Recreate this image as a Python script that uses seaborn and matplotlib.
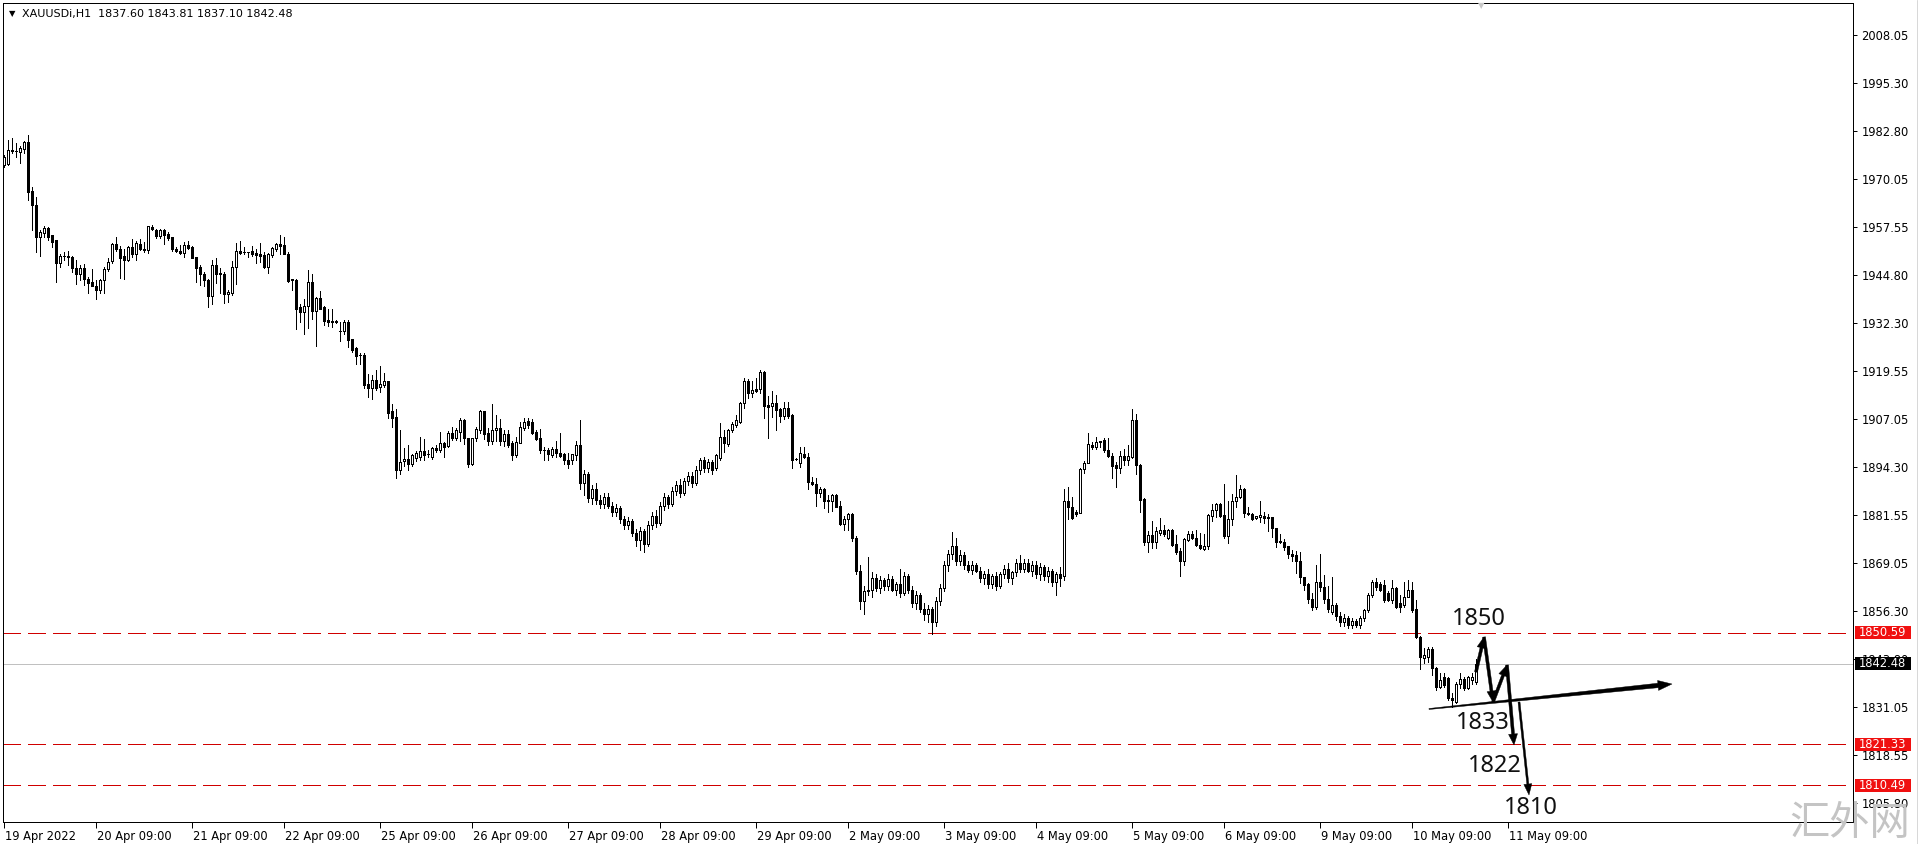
import numpy as np
import pandas as pd
import matplotlib
matplotlib.use("Agg")
import matplotlib.pyplot as plt
import seaborn as sns
import matplotlib.transforms as mtransforms
from matplotlib.patches import Polygon, Rectangle

sns.set_theme(style="white")
plt.rcParams['font.family'] = ['DejaVu Sans']
plt.rcParams['lines.scale_dashes'] = False

# ---------------- OHLC data (XAUUSD H1) ----------------
# bars 0-93 : 19 Apr - 22 Apr
seg1_open = [1973.8,1974.2,1977.7,1977.6,1977.3,1977.9,1979.9,1967.0,1963.4,1954.9,
1956.0,1957.3,1955.3,1954.0,1947.9,1949.8,1949.8,1949.6,1946.6,1945.0,
1946.7,1943.8,1943.0,1941.9,1941.0,1943.5,1946.4,1948.5,1953.0,1951.8,
1949.8,1948.7,1952.3,1950.5,1952.9,1951.8,1951.4,1957.5,1956.7,1955.2,
1956.7,1955.6,1954.8,1951.7,1951.1,1950.7,1952.7,1952.3,1949.5,1947.0,
1945.2,1943.5,1939.4,1947.4,1945.4,1945.2,1939.8,1940.0,1947.0,1951.2,
1951.0,1951.0,1951.1,1950.7,1950.3,1950.1,1947.0,1950.1,1951.8,1953.0,
1952.7,1950.5,1943.7,1943.5,1936.5,1935.2,1936.6,1943.1,1935.4,1938.9,
1936.3,1933.0,1932.8,1932.7,1930.1,1930.1,1932.5,1927.9,1925.5,1923.9,
1923.9,1916.1,1915.0,1917.3]
seg1_high = [1976.4,1980.5,1980.8,1979.7,1978.8,1980.2,1981.7,1967.9,1965.4,1956.7,
1957.8,1957.5,1955.5,1954.0,1950.3,1951.0,1951.2,1949.8,1948.9,1947.6,
1947.7,1944.2,1946.3,1943.5,1943.9,1947.0,1949.2,1953.3,1954.9,1952.5,
1951.6,1952.4,1954.2,1953.7,1954.2,1953.6,1957.8,1957.9,1956.9,1956.9,
1957.0,1956.2,1954.9,1952.3,1952.7,1953.6,1953.9,1952.5,1949.6,1947.4,
1945.7,1943.7,1948.8,1949.2,1946.6,1945.7,1941.0,1948.5,1953.2,1953.8,
1952.3,1951.0,1952.5,1951.8,1953.4,1951.0,1950.7,1952.3,1953.2,1955.3,
1954.9,1951.0,1943.7,1943.7,1937.2,1938.4,1946.1,1945.1,1939.1,1940.6,
1936.6,1935.8,1935.8,1932.9,1932.5,1933.0,1933.0,1928.1,1925.9,1924.2,
1924.2,1918.9,1918.5,1919.8]
seg1_low = [1973.3,1973.8,1976.9,1976.0,1974.4,1976.9,1964.6,1956.8,1951.0,1949.9,
1954.9,1954.0,1952.3,1943.1,1947.0,1948.9,1947.6,1945.7,1942.4,1943.5,
1942.2,1940.2,1941.9,1938.6,1940.0,1940.0,1946.0,1947.9,1951.2,1944.1,
1943.7,1948.6,1949.6,1948.9,1951.4,1951.0,1950.7,1956.8,1954.5,1954.6,
1953.0,1954.0,1951.2,1950.8,1950.5,1949.5,1951.6,1949.2,1943.1,1942.2,
1942.0,1936.3,1937.1,1942.8,1940.0,1937.6,1937.8,1939.5,1942.4,1950.5,
1950.5,1949.6,1949.9,1948.1,1948.3,1946.6,1945.5,1949.5,1951.2,1950.3,
1950.3,1943.1,1941.0,1930.5,1932.5,1929.2,1930.8,1933.3,1926.1,1935.8,
1931.6,1931.4,1931.2,1932.3,1927.5,1929.4,1925.9,1924.6,1921.5,1921.5,
1915.2,1912.8,1912.1,1914.5]
seg1_close = [1976.0,1977.7,1977.6,1977.5,1978.2,1979.9,1966.8,1963.4,1954.9,1956.1,
1957.3,1954.9,1953.6,1947.9,1949.9,1949.8,1949.6,1946.6,1945.0,1946.6,
1943.7,1942.8,1941.9,1941.0,1943.5,1946.4,1948.4,1953.0,1951.7,1949.2,
1948.7,1952.3,1950.5,1953.2,1951.7,1951.4,1957.7,1957.0,1955.2,1956.7,
1955.5,1954.6,1951.7,1951.1,1950.7,1952.7,1952.0,1949.4,1946.7,1945.0,
1943.4,1939.4,1947.4,1945.0,1945.1,1939.8,1940.4,1947.0,1951.1,1950.7,
1950.9,1950.9,1950.3,1950.0,1949.8,1947.0,1950.3,1952.0,1952.9,1952.6,
1950.5,1943.3,1943.6,1935.9,1935.2,1936.6,1943.1,1935.4,1938.9,1936.0,
1932.8,1932.6,1932.4,1932.4,1930.1,1932.5,1927.7,1925.1,1923.6,1923.8,
1915.8,1915.0,1917.3,1915.2]

# bars 94-183 : 22 Apr - 29 Apr
seg2_open = [1915.3,1915.9,1916.9,1908.9,1907.5,1893.5,1895.8,1896.4,1895.0,1896.6,
1897.0,1898.5,1897.6,1897.0,1899.2,1898.8,1900.7,1899.8,1903.3,1902.0,
1903.6,1906.7,1901.8,1895.2,1901.8,1904.0,1909.0,1903.2,1901.2,1903.9,
1904.6,1901.2,1903.0,1900.5,1897.4,1900.7,1904.5,1906.5,1906.2,1903.4,
1901.8,1898.8,1898.8,1897.4,1898.9,1898.1,1897.6,1896.0,1896.1,1897.4,
1900.1,1890.0,1892.5,1886.0,1888.5,1885.5,1884.5,1886.5,1884.0,1882.5,
1883.5,1880.5,1879.0,1880.0,1877.0,1875.0,1877.5,1874.0,1879.0,1881.5,
1879.5,1884.0,1886.5,1884.5,1888.0,1889.5,1887.5,1890.5,1892.0,1890.0,
1893.5,1896.0,1894.0,1895.5,1894.0,1896.6,1902.3,1900.3,1904.0,1905.4]
seg2_high = [1920.9,1919.0,1916.9,1910.8,1909.5,1904.0,1899.2,1900.1,1897.6,1898.5,
1902.3,1901.7,1898.8,1899.5,1900.1,1903.6,1900.9,1903.8,1904.9,1904.5,
1907.3,1906.8,1902.0,1902.0,1904.9,1909.3,1909.1,1904.5,1910.9,1908.0,
1906.8,1904.0,1904.0,1901.0,1902.3,1906.2,1907.1,1907.1,1906.8,1904.0,
1904.2,1899.6,1899.2,1899.6,1901.0,1903.2,1898.0,1897.9,1897.8,1901.0,
1906.7,1893.5,1893.0,1889.5,1890.0,1887.0,1887.5,1887.5,1885.0,1884.5,
1884.0,1881.5,1881.0,1880.5,1878.0,1878.5,1878.0,1880.0,1882.5,1883.0,
1885.0,1887.5,1887.0,1889.0,1890.5,1891.0,1891.5,1893.0,1893.0,1894.5,
1896.6,1897.0,1896.5,1896.0,1897.8,1905.8,1904.0,1904.2,1906.2,1908.0]
seg2_low = [1914.0,1915.3,1907.3,1904.7,1891.5,1892.5,1894.5,1893.5,1894.6,1895.8,
1896.1,1896.1,1897.0,1896.5,1898.3,1898.3,1897.0,1899.5,1901.4,1901.4,
1901.0,1900.3,1894.3,1894.8,1901.0,1903.2,1901.7,1900.1,1900.3,1901.0,
1900.1,1899.9,1899.6,1896.1,1897.0,1900.5,1904.0,1904.5,1903.0,1901.4,
1898.1,1896.1,1896.1,1897.0,1897.0,1897.0,1895.0,1894.0,1895.0,1896.1,
1888.5,1887.0,1885.0,1884.5,1884.5,1883.5,1883.5,1883.5,1881.5,1881.5,
1879.5,1878.0,1878.0,1876.0,1873.5,1872.5,1872.0,1873.5,1878.0,1878.5,
1879.0,1883.0,1883.5,1884.0,1887.0,1886.5,1887.0,1889.5,1889.0,1889.5,
1892.5,1893.0,1893.0,1892.5,1893.5,1896.0,1898.3,1899.8,1903.6,1904.9]
seg2_close = [1916.1,1916.9,1908.6,1907.3,1893.5,1895.5,1896.4,1895.0,1897.4,1898.1,
1898.5,1897.4,1897.7,1899.2,1898.8,1900.5,1899.6,1903.3,1902.0,1903.9,
1906.7,1901.8,1895.2,1901.8,1904.2,1909.0,1903.0,1901.2,1904.0,1904.6,
1901.2,1903.0,1900.1,1897.4,1900.8,1904.9,1906.2,1905.4,1903.3,1901.7,
1898.8,1898.7,1897.7,1898.9,1897.9,1897.3,1896.1,1895.0,1897.6,1900.1,
1890.0,1892.5,1886.0,1888.5,1885.5,1884.5,1886.5,1884.0,1882.5,1883.5,
1880.5,1879.0,1880.0,1877.0,1875.0,1877.5,1874.0,1879.0,1881.5,1879.5,
1884.0,1886.5,1884.5,1888.0,1889.5,1887.5,1890.5,1892.0,1890.0,1893.5,
1896.0,1894.0,1895.5,1893.5,1897.4,1902.3,1900.5,1904.0,1905.6,1906.7]

# bars 184-211 : 29 Apr
seg3_open = [1906.2,1911.05,1917.0,1913.7,1914.7,1914.7,1919.4,1910.6,1910.3,1911.05,
1909.6,1907.7,1909.7,1908.0,1896.4,1895.4,1897.7,1897.0,1890.3,1889.7,
1887.5,1888.4,1885.6,1885.4,1886.9,1884.0,1879.4,1880.5]
seg3_high = [1911.5,1917.6,1917.4,1916.8,1917.6,1919.7,1919.6,1913.0,1914.3,1913.2,
1909.7,1911.3,1911.3,1908.2,1896.6,1899.6,1899.6,1898.1,1891.7,1891.3,
1889.1,1888.7,1887.0,1887.3,1887.2,1885.4,1881.4,1882.1]
seg3_low = [1905.8,1909.7,1912.4,1912.8,1914.1,1913.9,1907.3,1902.0,1907.4,1904.0,
1906.2,1906.9,1907.3,1894.1,1896.0,1894.4,1896.6,1888.5,1889.5,1884.0,
1886.3,1883.4,1882.3,1882.7,1883.7,1879.0,1877.7,1877.7]
seg3_close = [1911.05,1917.0,1913.7,1914.6,1914.4,1919.4,1910.3,1910.2,1911.05,1909.3,
1907.7,1909.7,1907.7,1896.1,1896.3,1897.9,1897.0,1890.2,1889.7,1887.5,
1888.4,1885.2,1885.2,1886.9,1883.8,1879.4,1880.5,1881.8]

# bars 212-265 : 2 May - 4 May
seg4_open = [1881.9,1875.5,1867.0,1859.0,1861.5,1862.0,1865.0,1862.5,1864.5,1863.0,
1864.8,1862.0,1863.5,1861.0,1865.5,1862.0,1858.5,1860.5,1857.0,1855.5,
1857.0,1853.5,1859.0,1862.5,1868.5,1871.5,1873.5,1869.5,1871.0,1868.5,
1867.2,1868.5,1867.0,1865.0,1866.0,1863.5,1865.5,1863.0,1866.0,1867.5,
1865.0,1866.5,1869.0,1867.5,1869.0,1867.0,1868.5,1866.0,1868.0,1865.5,
1867.0,1864.0,1866.0,1865.5]
seg4_high = [1882.2,1876.0,1868.5,1863.0,1870.5,1866.5,1866.0,1865.5,1865.0,1866.0,
1865.5,1864.0,1867.5,1866.5,1866.0,1863.0,1861.5,1861.0,1858.5,1858.0,
1857.5,1860.0,1863.5,1869.5,1872.5,1877.2,1875.5,1872.5,1872.0,1869.5,
1869.5,1869.0,1868.0,1867.0,1867.5,1866.0,1866.5,1866.5,1868.5,1869.0,
1867.0,1870.0,1871.0,1870.0,1870.0,1869.5,1869.5,1869.0,1868.5,1868.0,
1867.5,1866.5,1868.0,1888.4]
seg4_low = [1874.8,1866.0,1857.0,1855.5,1860.5,1860.0,1861.5,1861.0,1862.0,1862.0,
1861.5,1860.5,1860.0,1860.5,1861.0,1857.5,1857.0,1856.0,1854.0,1853.5,
1850.3,1852.5,1858.0,1861.5,1867.0,1870.0,1868.5,1868.5,1867.5,1866.5,
1866.0,1866.5,1864.0,1863.5,1862.5,1862.5,1862.0,1862.5,1865.0,1864.0,
1863.5,1865.5,1866.5,1866.5,1866.5,1865.5,1865.0,1864.5,1864.5,1864.0,
1863.0,1860.5,1863.0,1864.5]
seg4_close = [1875.5,1867.0,1859.0,1861.5,1862.0,1865.0,1862.5,1864.5,1863.0,1864.8,
1862.0,1863.5,1861.0,1865.5,1862.0,1858.5,1860.5,1857.0,1855.5,1857.0,
1853.5,1859.0,1862.5,1868.5,1871.5,1873.5,1869.5,1871.0,1868.5,1867.2,
1868.5,1867.0,1865.0,1866.0,1863.5,1865.5,1863.0,1866.0,1867.5,1865.0,
1866.5,1869.0,1867.5,1869.0,1867.0,1868.5,1866.0,1868.0,1865.5,1867.0,
1864.0,1866.0,1865.0,1885.4]

# bars 266-324 : 4 May - 9 May
seg5_open = [1885.4,1883.7,1882.5,1882.2,1893.7,1895.4,1900.2,1899.5,1901.2,1901.4,
1898.8,1897.3,1894.8,1893.9,1897.2,1896.0,1896.8,1906.7,1894.8,1885.8,
1874.6,1876.4,1874.4,1877.0,1877.7,1875.5,1877.7,1873.9,1872.2,1869.6,
1875.1,1876.6,1875.5,1873.7,1872.7,1873.6,1881.5,1883.0,1884.5,1881.6,
1876.2,1880.5,1885.2,1886.3,1888.4,1882.1,1882.0,1880.8,1881.2,1881.4,
1881.2,1881.0,1878.1,1874.9,1874.6,1873.5,1871.4,1871.1,1869.6]
seg5_high = [1889.1,1886.3,1883.0,1893.9,1895.9,1903.2,1900.9,1902.3,1901.2,1901.8,
1901.8,1898.1,1895.7,1898.5,1899.0,1900.1,1909.6,1908.2,1895.0,1886.0,
1877.3,1880.1,1878.6,1880.8,1879.0,1877.9,1877.9,1876.4,1872.9,1875.7,
1877.3,1877.3,1877.7,1876.8,1876.6,1881.8,1884.5,1884.9,1884.9,1889.8,
1885.2,1887.3,1892.2,1889.5,1888.7,1883.7,1882.2,1881.4,1885.3,1882.3,
1881.9,1881.2,1878.3,1876.6,1875.2,1873.5,1872.4,1872.2,1872.0]
seg5_low = [1880.5,1880.5,1881.4,1882.1,1892.6,1895.3,1898.9,1898.9,1899.5,1898.3,
1897.0,1891.3,1889.1,1892.8,1894.8,1894.8,1896.6,1892.4,1882.3,1873.7,
1872.0,1872.9,1872.9,1876.4,1876.1,1875.2,1873.5,1871.4,1865.6,1868.5,
1874.9,1875.2,1873.5,1872.6,1872.4,1872.6,1880.1,1881.0,1881.0,1875.5,
1874.2,1879.0,1883.7,1886.0,1881.2,1881.6,1880.3,1880.7,1879.9,1879.6,
1877.3,1875.9,1873.3,1874.2,1872.4,1870.2,1869.4,1866.3,1863.8]
seg5_close = [1883.7,1880.8,1881.9,1893.7,1895.4,1900.3,1899.5,1900.9,1900.9,1898.8,
1897.3,1894.6,1893.9,1897.2,1896.0,1897.2,1906.7,1894.8,1885.6,1874.6,
1876.4,1874.4,1877.3,1877.7,1876.6,1877.7,1873.7,1872.0,1869.6,1875.3,
1876.6,1875.5,1873.7,1872.9,1873.6,1881.6,1883.0,1884.5,1881.4,1876.2,
1880.5,1885.2,1886.3,1888.4,1882.1,1882.0,1880.6,1881.4,1881.6,1880.9,
1880.8,1878.1,1874.4,1874.4,1873.3,1871.5,1870.8,1869.4,1865.2]

# bars 325-368 : 9 May - 11 May
seg6_open = [1865.2,1863.4,1859.5,1857.5,1864.1,1862.8,1859.5,1856.0,1858.0,1855.0,
1853.5,1854.5,1852.8,1853.8,1852.6,1854.5,1856.5,1860.5,1863.9,1863.4,
1863.2,1861.0,1859.3,1862.3,1858.4,1857.9,1860.1,1861.9,1856.8,1849.6,
1843.9,1844.3,1846.3,1841.3,1836.4,1839.1,1838.6,1833.4,1832.5,1837.1,
1838.4,1836.0,1838.2,1837.60]
seg6_high = [1865.4,1863.8,1861.0,1868.6,1871.3,1865.8,1862.9,1865.4,1858.5,1856.0,
1855.5,1855.0,1854.5,1854.3,1855.0,1857.0,1861.0,1864.6,1865.0,1864.0,
1864.5,1861.5,1864.5,1862.8,1860.6,1864.1,1864.5,1864.1,1859.3,1849.8,
1846.5,1846.8,1846.8,1841.7,1839.9,1839.9,1839.1,1834.7,1837.7,1839.9,
1839.1,1839.2,1839.9,1843.81]
seg6_low = [1861.9,1858.5,1856.5,1857.0,1861.5,1858.5,1856.0,1855.5,1854.0,1852.5,
1852.5,1852.0,1852.0,1852.2,1852.0,1853.8,1856.0,1860.0,1862.0,1861.6,
1858.8,1858.9,1858.4,1857.1,1856.2,1857.5,1860.0,1856.2,1849.2,1841.0,
1842.6,1843.0,1839.5,1835.6,1836.0,1836.4,1832.9,1831.2,1832.0,1836.0,
1835.6,1835.7,1837.1,1837.10]
seg6_close = [1863.2,1859.5,1857.5,1864.1,1862.8,1859.5,1857.0,1858.0,1855.0,1853.5,
1854.5,1852.8,1853.8,1852.6,1854.5,1856.5,1860.5,1864.1,1862.8,1862.0,
1859.3,1859.3,1862.3,1857.5,1857.5,1860.1,1861.9,1856.6,1849.6,1844.3,
1844.8,1846.3,1841.3,1836.4,1838.2,1836.9,1833.4,1832.9,1837.1,1838.4,
1836.0,1838.9,1839.1,1842.48]

# axis ticks
price_ticks = [2008.05, 1995.30, 1982.80, 1970.05, 1957.55, 1944.80, 1932.30, 1919.55,
               1907.05, 1894.30, 1881.55, 1869.05, 1856.30, 1843.80, 1831.05, 1818.55, 1805.80]
time_tick_bars = [0, 23, 47, 70, 94, 117, 141, 164, 188, 211, 235, 258, 282, 305, 329, 352, 376]
time_tick_labels = ["19 Apr 2022", "20 Apr 09:00", "21 Apr 09:00", "22 Apr 09:00", "25 Apr 09:00",
                    "26 Apr 09:00", "27 Apr 09:00", "28 Apr 09:00", "29 Apr 09:00", "2 May 09:00",
                    "3 May 09:00", "4 May 09:00", "5 May 09:00", "6 May 09:00", "9 May 09:00",
                    "10 May 09:00", "11 May 09:00"]

# horizontal levels
red_levels = [1850.59, 1821.33, 1810.49]
bid_level = 1842.48

# hand-drawn annotations (bar index, price)
zigzag_x = [368.0, 370.0, 372.25, 375.75, 377.5]
zigzag_y = [1840.29, 1849.51, 1832.39, 1842.13, 1821.07]
drop_arrow_x = [378.75, 381.25]
drop_arrow_y = [1832.39, 1807.90]
trend_x = [356.25, 417.0]
trend_y = [1830.55, 1837.13]
target_texts = ["1850", "1833", "1822", "1810"]
target_x = [368.75, 369.75, 372.75, 381.75]
target_y = [1854.25, 1826.86, 1815.53, 1804.47]

header = "XAUUSDi,H1  1837.60 1843.81 1837.10 1842.48"

# ---------------- assemble ----------------
opens = seg1_open + seg2_open + seg3_open + seg4_open + seg5_open + seg6_open
highs = seg1_high + seg2_high + seg3_high + seg4_high + seg5_high + seg6_high
lows = seg1_low + seg2_low + seg3_low + seg4_low + seg5_low + seg6_low
closes = seg1_close + seg2_close + seg3_close + seg4_close + seg5_close + seg6_close
n = min(len(opens), len(highs), len(lows), len(closes))
df = pd.DataFrame({"bar": np.arange(n), "open": opens[:n], "high": highs[:n],
                   "low": lows[:n], "close": closes[:n]})
df["high"] = df[["high", "open", "close"]].max(axis=1)
df["low"] = df[["low", "open", "close"]].min(axis=1)
up = df["close"] >= df["open"]

PX = 0.72  # one pixel in points at dpi 100
FS = 8.3
fig = plt.figure(figsize=(19.19, 8.44), dpi=100, facecolor="white")
ax = fig.add_axes([3/1919, 22/844, 1850/1919, 819/844])
ax.set_facecolor("white")
ax.set_xlim(-0.25, 462.25)
ax.set_ylim(1800.79, 2016.48)

# levels
ax.axhline(bid_level, color="#c0c0c0", lw=PX, zorder=1, antialiased=False)
for lv in red_levels:
    ax.axhline(lv, color="#d00000", lw=PX, ls=(0, (12.9, 5.5)), zorder=1, antialiased=False)

# candles
ax.vlines(df["bar"], df["low"], df["high"], color="black", lw=PX, zorder=2, antialiased=False)
d_up = df[up]; d_dn = df[~up]
ax.bar(d_up["bar"], d_up["close"] - d_up["open"], bottom=d_up["open"], width=0.55,
       color="white", edgecolor="black", linewidth=PX, zorder=3, antialiased=False)
ax.bar(d_dn["bar"], d_dn["close"] - d_dn["open"], bottom=d_dn["open"], width=0.55,
       color="black", edgecolor="black", linewidth=PX, zorder=3, antialiased=False)

# axes styling
for sp in ax.spines.values():
    sp.set_visible(True); sp.set_color("black"); sp.set_linewidth(PX)
ax.yaxis.tick_right()
ax.set_yticks(price_ticks)
ax.set_yticklabels([f"{v:.2f}" for v in price_ticks])
ax.set_xticks(time_tick_bars)
ax.set_xticklabels(time_tick_labels)
ax.tick_params(axis="y", right=True, left=False, direction="out", length=3, width=PX,
               pad=3, labelsize=FS, colors="black")
ax.tick_params(axis="x", bottom=True, direction="out", length=4, width=PX,
               pad=1.5, labelsize=FS, colors="black")
shift = mtransforms.ScaledTranslation(1/100, 0, fig.dpi_scale_trans)
for lab in ax.get_xticklabels():
    lab.set_horizontalalignment("left")
    lab.set_transform(lab.get_transform() + shift)
ax.grid(False)

# price boxes on the right scale
yx = ax.get_yaxis_transform()
box_h = 13 * 0.26336
for lv, col in [(red_levels[0], "#f01010"), (red_levels[1], "#f01010"), (red_levels[2], "#f01010"),
                (bid_level, "black")]:
    ax.add_patch(Rectangle((1.00108, lv - box_h/2), 0.0303, box_h, transform=yx,
                           facecolor=col, edgecolor="none", clip_on=False, zorder=6))
    ax.text(1.00324, lv, f"{lv:.2f}", transform=yx, ha="left", va="center",
            color="white", fontsize=FS, zorder=7, clip_on=False)

# annotations
def arrow_px(x0, y0, x1, y1, w0, w1, hl, hw):
    p0 = ax.transData.transform((x0, y0)); p1 = ax.transData.transform((x1, y1))
    d = p1 - p0; L = np.hypot(*d); u = d / L; nrm = np.array([-u[1], u[0]])
    base = p1 - u * hl
    pts = [p0 + nrm*w0/2, base + nrm*w1/2, base + nrm*hw/2, p1,
           base - nrm*hw/2, base - nrm*w1/2, p0 - nrm*w0/2]
    ax.add_patch(Polygon(pts, closed=True, transform=mtransforms.IdentityTransform(),
                         facecolor="black", edgecolor="black", lw=0.3, zorder=8))

arrow_px(trend_x[0], trend_y[0], trend_x[1], trend_y[1], 1.0, 4.5, 14, 10)
for i in range(len(zigzag_x) - 1):
    arrow_px(zigzag_x[i], zigzag_y[i], zigzag_x[i+1], zigzag_y[i+1], 3.0, 3.0, 11, 9)
arrow_px(drop_arrow_x[0], drop_arrow_y[0], drop_arrow_x[1], drop_arrow_y[1], 2.0, 2.0, 11, 8)

for t, x, y in zip(target_texts, target_x, target_y):
    ax.text(x, y, t, ha="center", va="center", fontsize=17, color="#111111",
            family=["Noto Sans", "DejaVu Sans"], zorder=9)

# header and decorations
fig.text(12/1919, 1 - 14/844, "\u25bc", fontsize=6, ha="center", va="center", color="black")
fig.text(22/1919, 1 - 14/844, header, fontsize=8, ha="left", va="center", color="black")
fig.text(1481/1919, 1 - 6/844, "\u25bc", fontsize=6, ha="center", va="center", color="#c8c8c8")
fig.text(1850/1919, 1 - 823/844, "汇外网", fontsize=29, ha="center", va="center", color="#c4c4c4",
         family=["Noto Sans CJK SC", "DejaVu Sans"], zorder=10)
fig.add_artist(plt.Line2D([1916.5/1919, 1916.5/1919], [0, 1], color="#d8d8d8", lw=PX))

fig.savefig("out.png", dpi=100, facecolor="white")
